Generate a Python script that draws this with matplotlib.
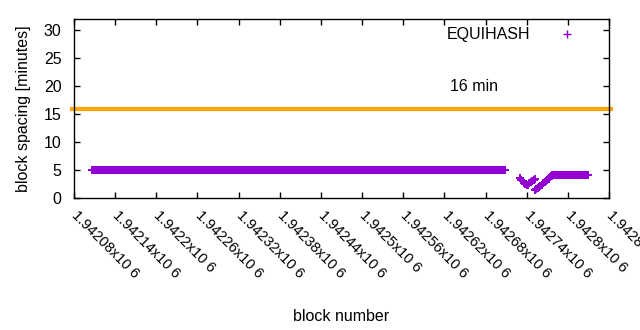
import matplotlib
matplotlib.use('Agg')
import matplotlib.pyplot as plt
import numpy as np

plt.rcParams['font.family'] = ['Liberation Sans', 'DejaVu Sans']
plt.rcParams['font.size'] = 11.5

# flat runs of block spacing: (first block, last block, minutes)
runs = [
    (1942106, 1942708, 4.93),
    (1942777, 1942829, 4.05),
]

# the dip after the first run
dip_blocks = [1942730, 1942732, 1942734, 1942736, 1942738, 1942740, 1942742,
              1942744, 1942746, 1942748, 1942750, 1942752,
              1942752, 1942754, 1942756, 1942758, 1942760, 1942762, 1942764,
              1942766, 1942768, 1942770, 1942772, 1942774, 1942776]
dip_minutes = [3.6, 3.3, 3.0, 2.7, 2.5, 2.3, 2.4,
               2.6, 2.8, 3.0, 3.2, 3.4,
               1.5, 1.6, 1.8, 2.0, 2.2, 2.4, 2.6,
               2.8, 3.0, 3.2, 3.4, 3.7, 4.0]

target_minutes = 16

tick_blocks = [1942080 + 60 * i for i in range(14)]
tick_labels = ['1.94208x10 6', '1.94214x10 6', '1.9422x10 6', '1.94226x10 6',
               '1.94232x10 6', '1.94238x10 6', '1.94244x10 6', '1.9425x10 6',
               '1.94256x10 6', '1.94262x10 6', '1.94268x10 6', '1.94274x10 6',
               '1.9428x10 6', '1.94286x10 6']

blocks = []
minutes = []
for start, end, val in runs[:1]:
    b = np.arange(start, end + 1)
    blocks.extend(b)
    minutes.extend([val] * len(b))
blocks.extend(dip_blocks)
minutes.extend(dip_minutes)
for start, end, val in runs[1:]:
    b = np.arange(start, end + 1)
    blocks.extend(b)
    minutes.extend([val] * len(b))

fig = plt.figure(figsize=(6.4, 3.3), dpi=100)
ax = fig.add_axes([74 / 640, 132 / 330, 535 / 640, 179 / 330])

ax.axhline(target_minutes, xmin=-0.004, xmax=1.003, color='#ffa500', linewidth=3, clip_on=False)
ax.plot(blocks, minutes, '+', color='#9400d3', markersize=6, markeredgewidth=1.4,
        linestyle='none', label='EQUIHASH')
ax.text(1942628, 20, '16 min', va='center', ha='left')

ax.set_xlim(tick_blocks[0], tick_blocks[-1])
ax.set_ylim(0, 32)
ax.set_yticks(range(0, 31, 5))
ax.set_xticks(tick_blocks)
ax.set_xticklabels(tick_labels, rotation=-45, ha='left', va='center',
                   rotation_mode='anchor', fontsize=10.5)
ax.tick_params(direction='in', length=4, width=1, top=True, right=True)
ax.tick_params(axis='y', pad=9)
ax.tick_params(axis='x', pad=11)
for s in ax.spines.values():
    s.set_linewidth(1)

ax.set_xlabel('block number')
ax.set_ylabel('block spacing [minutes]')
ax.xaxis.set_label_coords(0.5, -0.62)
ax.yaxis.set_label_coords(-0.08, 0.5)

leg = ax.legend(loc='upper right', bbox_to_anchor=(0.972, 1.017), markerfirst=False,
                frameon=False, handlelength=2, handletextpad=1.3, borderaxespad=0.3)
leg.legend_handles[0].set_markeredgewidth(1)

fig.savefig('out.png', dpi=100)
